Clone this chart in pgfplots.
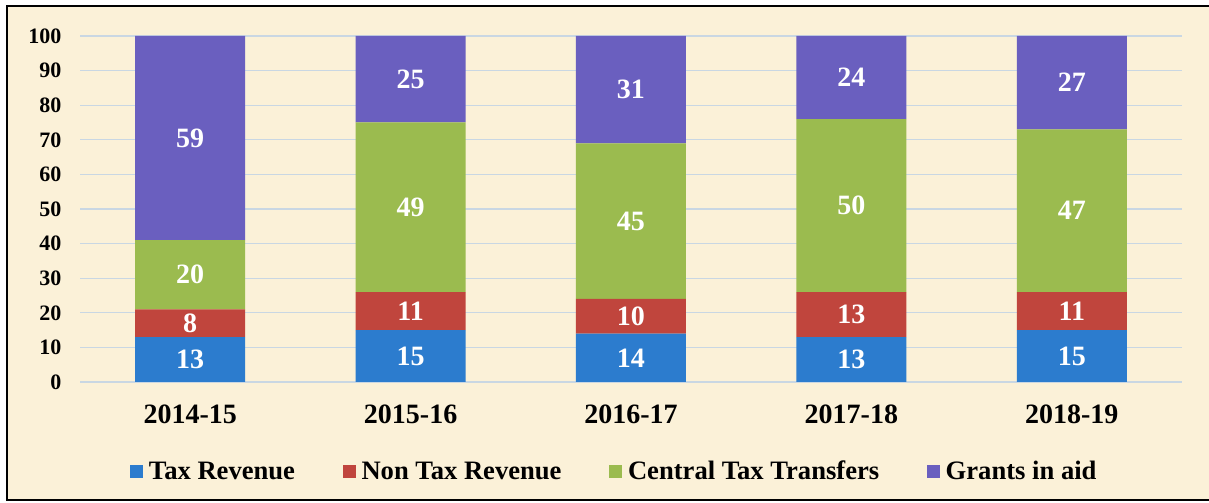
\documentclass[border=0pt]{standalone}
\usepackage{pgfplots}
\pgfplotsset{compat=1.18}
\usepackage{fontspec}
\setmainfont{Liberation Serif}
\definecolor{bg}{HTML}{FBF1D8}
\definecolor{gridc}{HTML}{C9D7E3}
\definecolor{cTax}{HTML}{2C7CCE}
\definecolor{cNon}{HTML}{C0453D}
\definecolor{cCen}{HTML}{9BBB4F}
\definecolor{cGra}{HTML}{6A5FBF}
\pgfplotsset{sq legend/.style={legend image code/.code={\fill[##1] (0bp,-6.5bp) rectangle (13bp,6.5bp); \path (17bp,0bp);}}}
\begin{document}
\begin{tikzpicture}
\useasboundingbox (0bp,0bp) rectangle (1209bp,503bp);
\fill[white] (0bp,0bp) rectangle (1209bp,503bp);
\fill[bg] (7bp,3bp) rectangle (1215bp,497bp);
\draw[line width=1.6bp] (1215bp,497bp) -- (7bp,497bp) -- (7bp,3bp) -- (1215bp,3bp);
\begin{axis}[
  at={(80bp,121bp)}, anchor=south west,
  scale only axis, width=1102bp, height=346bp,
  xmin=-0.5, xmax=4.5, ymin=0, ymax=100,
  ybar stacked, bar width=110bp,
  xtick={0,1,2,3,4},
  xticklabels={2014-15,2015-16,2016-17,2017-18,2018-19},
  ytick={0,10,...,100},
  ymajorgrids, grid style={color=gridc, line width=1.2bp},
  axis line style={draw=none}, tick style={draw=none},
  yticklabel style={font=\fontsize{22bp}{22bp}\selectfont\bfseries, xshift=-15bp},
  xticklabel style={font=\fontsize{28bp}{28bp}\selectfont\bfseries, yshift=-19bp},
  /pgf/number format/assume math mode=true,
  nodes near coords,
  every node near coord/.append style={font=\fontsize{28bp}{28bp}\selectfont\bfseries, text=white, anchor=center},
  legend columns=-1,
  legend style={at={(0.4848,-0.258)}, anchor=center, draw=none, fill=none,
    font=\fontsize{26.6bp}{26.6bp}\selectfont\bfseries,
    /tikz/every even column/.append style={column sep=45.5bp}},
]
\addplot[fill=cTax, draw=none, sq legend] coordinates {(0,13) (1,15) (2,14) (3,13) (4,15)};
\addplot[fill=cNon, draw=none, sq legend] coordinates {(0,8) (1,11) (2,10) (3,13) (4,11)};
\addplot[fill=cCen, draw=none, sq legend] coordinates {(0,20) (1,49) (2,45) (3,50) (4,47)};
\addplot[fill=cGra, draw=none, sq legend] coordinates {(0,59) (1,25) (2,31) (3,24) (4,27)};
\legend{Tax Revenue, Non Tax Revenue, Central Tax Transfers, Grants in aid}
\end{axis}
\end{tikzpicture}
\end{document}
